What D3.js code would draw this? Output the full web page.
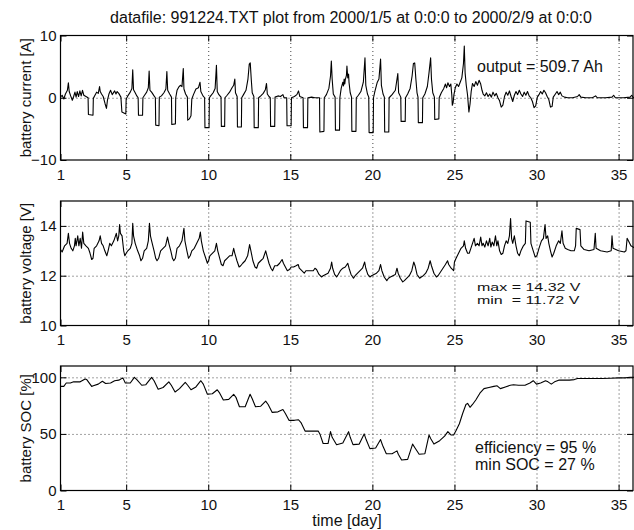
<!DOCTYPE html>
<meta charset="utf-8">
<style>
body { margin: 0; background: #fff; }
svg { font-family: "Liberation Sans", Arial, Helvetica, sans-serif; }
.grid line { stroke: #444; stroke-dasharray: 1,3; }
.grid .domain { display: none; }
.ax .domain { display: none; }
.ax line { stroke: #000; }
.ax text { font-size: 15px; fill: #111; }
.note { font-size: 16px; fill: #111; white-space: pre; }
</style>
<svg width="634" height="530"></svg>
<script src="https://cdn.jsdelivr.net/npm/d3@7"></script>
<script>
// ---- data: [day, value] ----
var dayTicks = [1, 5, 10, 15, 20, 25, 30, 35];

var currentPts = [
  [1.00,0.1],[1.10,0.4],[1.20,-0.2],[1.30,0.6],[1.42,1.2],[1.48,2.4],[1.53,1.0],[1.62,0.3],[1.72,-0.4],[1.80,0.2],[1.88,0.9],[1.95,0.1],[2.02,1.0],[2.10,0.2],[2.18,1.1],[2.26,0.3],[2.34,1.2],[2.42,0.4],[2.55,0.2],[2.68,0.0],
  [2.70,-2.7],[2.98,-2.8],[3.00,-0.1],[3.10,0.4],[3.20,0.9],[3.30,0.7],[3.38,1.8],[3.42,1.0],[3.50,0.6],[3.60,0.2],[3.72,-1.0],[3.80,-1.7],[3.86,-0.4],[3.95,0.6],[4.05,1.2],[4.15,0.5],[4.30,1.1],[4.38,0.6],[4.45,1.0],[4.55,0.7],[4.68,0.1],
  [4.74,-2.3],[4.98,-2.6],[5.00,-0.2],[5.10,0.3],[5.25,0.9],[5.35,1.5],[5.40,4.5],[5.45,1.3],[5.55,0.8],[5.65,0.3],[5.73,0.0],
  [5.75,-2.8],[6.00,-2.8],[6.02,0.0],[6.12,0.4],[6.25,0.9],[6.35,1.6],[6.40,4.3],[6.45,1.2],[6.55,0.9],[6.70,0.3],[6.78,0.0],
  [6.80,-4.4],[7.00,-4.5],[7.02,0.1],[7.15,0.3],[7.30,0.8],[7.42,1.4],[7.48,4.2],[7.53,1.2],[7.65,0.6],[7.76,0.1],
  [7.78,-4.3],[8.00,-4.2],[8.02,0.0],[8.10,1.2],[8.20,1.7],[8.30,2.0],[8.40,1.8],[8.48,4.7],[8.52,1.4],[8.62,0.6],[8.73,0.1],
  [8.75,-3.6],[8.85,-3.4],[8.95,-2.9],[9.00,-0.2],[9.10,0.5],[9.25,1.4],[9.40,1.6],[9.50,2.5],[9.55,1.0],[9.68,0.3],[9.78,0.0],
  [9.80,-4.8],[10.05,-4.8],[10.07,0.0],[10.15,0.3],[10.30,0.8],[10.42,1.5],[10.50,5.2],[10.55,1.0],[10.65,0.5],[10.78,0.1],
  [10.80,-4.6],[11.00,-4.6],[11.02,0.0],[11.15,0.4],[11.30,0.9],[11.45,1.6],[11.55,2.0],[11.62,3.0],[11.66,0.8],[11.76,0.2],
  [11.78,-4.7],[12.02,-4.7],[12.04,0.0],[12.15,0.5],[12.30,1.2],[12.42,3.0],[12.50,5.4],[12.56,5.6],[12.62,3.0],[12.68,0.8],[12.78,0.2],
  [12.80,-4.8],[13.05,-4.8],[13.07,0.0],[13.20,0.3],[13.35,0.7],[13.48,1.3],[13.55,2.3],[13.60,0.6],[13.70,0.2],[13.78,0.0],
  [13.80,-4.6],[14.05,-4.6],[14.07,0.1],[14.25,0.3],[14.40,0.2],[14.55,0.5],[14.62,0.0],[14.78,0.0],
  [14.80,-4.5],[15.05,-4.5],[15.07,0.0],[15.25,0.2],[15.40,0.5],[15.50,1.1],[15.58,0.2],[15.78,0.0],
  [15.80,-4.8],[16.05,-4.8],[16.07,0.0],[16.30,0.1],[16.50,0.0],[16.78,0.0],
  [16.80,-5.5],[17.05,-5.4],[17.07,0.0],[17.20,0.5],[17.35,1.5],[17.45,3.5],[17.50,5.9],[17.55,3.0],[17.62,0.6],[17.73,0.1],
  [17.75,-5.2],[18.00,-5.2],[18.02,0.0],[18.10,1.5],[18.20,2.5],[18.24,1.9],[18.28,3.0],[18.32,2.2],[18.35,2.9],[18.42,3.6],[18.45,5.1],[18.50,3.2],[18.55,3.8],[18.58,2.4],[18.65,0.8],[18.73,0.1],
  [18.75,-5.4],[19.00,-5.4],[19.02,0.0],[19.15,0.4],[19.30,1.0],[19.45,2.5],[19.55,6.4],[19.60,2.0],[19.70,0.6],[19.78,0.1],
  [19.80,-5.6],[20.05,-5.6],[20.07,0.0],[20.15,1.0],[20.30,2.5],[20.40,3.0],[20.50,6.2],[20.55,2.0],[20.65,0.6],[20.73,0.1],
  [20.75,-5.5],[21.00,-5.5],[21.02,0.0],[21.20,0.5],[21.40,1.2],[21.55,3.9],[21.60,0.8],[21.73,0.1],
  [21.75,-3.8],[22.00,-3.8],[22.02,0.0],[22.15,0.6],[22.30,1.5],[22.42,3.5],[22.50,5.5],[22.58,5.6],[22.65,3.0],[22.72,0.8],[22.78,0.1],
  [22.80,-4.0],[23.05,-4.0],[23.07,0.0],[23.20,0.6],[23.35,1.8],[23.45,4.0],[23.55,6.4],[23.60,3.0],[23.68,0.8],[23.78,0.1],
  [23.80,-3.5],[24.05,-3.4],[24.07,0.0],[24.20,0.8],[24.35,1.5],[24.45,2.2],[24.52,1.6],[24.60,2.4],[24.70,1.8],[24.78,2.2],[24.84,0.4],[24.87,-1.2],[24.92,-0.8],[24.97,0.5],
  [25.05,1.6],[25.15,2.2],[25.25,1.8],[25.35,2.5],[25.45,3.2],[25.55,5.5],[25.60,8.3],[25.65,4.0],[25.72,2.0],[25.80,0.4],[25.88,-2.3],[25.95,-1.0],[26.02,1.0],
  [26.10,2.3],[26.20,1.8],[26.30,2.6],[26.40,2.0],[26.50,2.8],[26.60,2.2],[26.68,1.2],[26.75,0.6],[26.85,0.3],[26.95,0.8],[27.05,0.2],[27.15,0.6],[27.25,0.1],[27.35,0.9],[27.45,0.3],[27.55,0.7],[27.65,0.0],
  [27.75,-0.5],[27.85,-1.5],[27.95,-1.2],[28.05,0.2],[28.15,0.9],[28.25,0.4],[28.35,1.1],[28.45,0.2],[28.55,-0.6],[28.65,0.4],[28.75,1.0],[28.85,0.5],[28.95,1.2],[29.05,0.6],[29.15,0.2],[29.25,0.9],[29.35,0.4],[29.45,1.0],[29.55,0.3],[29.65,0.0],[29.75,-0.6],[29.85,-1.6],[29.95,-1.3],[30.05,0.1],
  [30.15,0.5],[30.25,1.0],[30.35,0.6],[30.45,1.2],[30.55,0.8],[30.65,0.2],[30.75,-0.3],[30.85,-1.5],[30.95,-1.4],[31.02,0.1],[31.15,0.6],[31.25,1.0],[31.35,0.5],[31.45,0.9],[31.55,0.3],[31.70,0.1],
  [31.90,0.0],[32.20,0.0],[32.50,0.2],[32.60,0.5],[32.70,0.1],[33.00,0.0],[33.40,0.0],[33.60,0.3],[33.70,0.0],[34.20,0.0],[34.60,0.1],[34.70,0.4],[34.80,0.0],[35.30,0.0],[35.70,0.1],[35.80,0.4],[35.90,0.0],[36.00,0.0]
];

var voltagePts = [
  [1.00,13.05],[1.10,12.95],[1.25,13.2],[1.40,13.3],[1.48,13.7],[1.55,13.3],[1.65,13.1],[1.75,13.0],[1.85,13.2],[1.90,13.5],[1.95,13.2],[2.05,13.6],[2.12,13.2],[2.20,13.5],[2.28,13.1],[2.35,13.75],[2.42,13.3],[2.55,13.2],[2.70,13.1],[2.80,12.9],[2.90,12.65],[2.98,12.7],
  [3.05,13.1],[3.20,13.2],[3.35,13.4],[3.42,13.6],[3.50,13.3],[3.60,13.2],[3.70,13.0],[3.82,12.8],[3.90,13.0],[4.00,13.3],[4.10,13.2],[4.25,13.4],[4.40,13.7],[4.48,13.4],[4.55,13.6],[4.60,14.05],[4.65,13.7],[4.75,13.6],[4.85,13.0],[4.92,12.8],
  [5.00,12.9],[5.10,13.0],[5.25,13.1],[5.35,13.3],[5.40,14.1],[5.45,13.6],[5.55,13.3],[5.70,13.0],[5.82,12.8],[5.90,12.6],[6.00,12.7],[6.10,13.0],[6.25,13.1],[6.35,13.4],[6.42,14.1],[6.48,13.6],[6.55,13.4],[6.70,13.0],[6.80,12.7],[6.88,12.6],[6.98,12.7],
  [7.10,13.0],[7.25,13.1],[7.40,13.2],[7.52,13.55],[7.60,13.3],[7.72,13.0],[7.82,12.7],[7.90,12.6],[8.00,12.7],[8.10,13.1],[8.25,13.2],[8.40,13.4],[8.52,13.9],[8.58,13.4],[8.70,13.0],[8.80,12.7],[8.90,12.8],
  [9.00,13.0],[9.15,13.1],[9.30,13.3],[9.45,13.5],[9.52,13.75],[9.58,13.4],[9.70,13.0],[9.85,12.7],[9.95,12.5],[10.02,12.6],[10.10,12.8],[10.25,12.9],[10.40,13.0],[10.50,13.3],[10.58,13.0],[10.70,12.7],[10.80,12.45],[10.90,12.4],
  [11.00,12.6],[11.15,12.7],[11.30,12.8],[11.45,12.8],[11.55,13.1],[11.62,12.9],[11.75,12.6],[11.88,12.35],[11.98,12.4],[12.10,12.5],[12.25,12.6],[12.40,12.8],[12.52,13.25],[12.60,13.0],[12.72,12.6],[12.85,12.35],[12.95,12.3],
  [13.05,12.5],[13.20,12.6],[13.35,12.7],[13.50,13.0],[13.58,12.8],[13.70,12.5],[13.82,12.3],[13.92,12.2],[14.05,12.4],[14.20,12.4],[14.35,12.5],[14.50,12.65],[14.58,12.5],[14.70,12.35],[14.82,12.2],[14.95,12.25],
  [15.05,12.35],[15.20,12.35],[15.35,12.4],[15.48,12.45],[15.55,12.3],[15.70,12.2],[15.85,12.1],[15.95,12.2],[16.10,12.2],[16.25,12.2],[16.40,12.2],[16.50,12.3],[16.60,12.25],[16.75,12.05],[16.90,11.95],
  [17.00,12.0],[17.15,12.05],[17.30,12.1],[17.45,12.3],[17.52,12.55],[17.58,12.3],[17.70,12.05],[17.82,11.95],[17.92,12.05],[18.05,12.2],[18.20,12.3],[18.35,12.35],[18.50,12.5],[18.58,12.3],[18.70,12.05],[18.85,11.9],[18.95,12.0],
  [19.10,12.1],[19.25,12.2],[19.40,12.3],[19.53,12.55],[19.60,12.3],[19.72,12.05],[19.85,11.95],[19.95,12.0],[20.10,12.05],[20.25,12.1],[20.40,12.2],[20.50,12.45],[20.58,12.2],[20.72,11.95],[20.88,11.8],[20.98,11.9],
  [21.10,11.95],[21.25,12.0],[21.40,12.05],[21.50,12.3],[21.57,12.1],[21.70,11.9],[21.85,11.75],[21.95,11.8],[22.10,11.9],[22.25,12.0],[22.40,12.2],[22.52,12.55],[22.60,12.4],[22.72,12.05],[22.88,11.9],[22.98,11.95],
  [23.10,12.0],[23.25,12.1],[23.40,12.3],[23.52,12.6],[23.60,12.4],[23.75,12.1],[23.90,11.95],[24.00,12.0],[24.15,12.15],[24.30,12.3],[24.45,12.45],[24.58,12.6],[24.65,12.45],[24.80,12.3],[24.95,12.2],
  [25.00,12.55],[25.10,12.7],[25.25,12.9],[25.40,13.1],[25.55,13.2],[25.60,13.4],[25.68,13.1],[25.80,12.9],[25.90,12.9],[26.00,13.1],[26.10,13.3],[26.20,13.5],[26.28,13.2],[26.40,13.3],[26.50,13.2],[26.60,13.55],[26.68,13.2],[26.75,13.3],[26.85,13.15],[26.95,13.4],
  [27.05,13.2],[27.15,13.5],[27.22,13.15],[27.30,13.35],[27.40,13.2],[27.50,13.6],[27.58,13.2],[27.65,13.4],[27.75,13.0],[27.85,12.85],[27.95,12.9],[28.05,13.2],[28.15,13.4],[28.25,13.3],[28.35,13.6],[28.42,14.3],[28.48,13.5],[28.55,13.3],[28.65,13.6],[28.75,13.2],[28.85,12.9],[28.95,12.8],
  [29.05,13.0],[29.20,13.2],[29.32,13.3],[29.36,14.2],[29.62,14.15],[29.66,13.3],[29.80,13.0],[29.92,12.75],[30.02,12.8],[30.15,13.1],[30.30,13.4],[30.42,13.5],[30.52,14.05],[30.58,13.5],[30.68,13.6],[30.75,13.3],[30.85,13.0],[30.95,12.75],
  [31.05,12.9],[31.20,13.2],[31.35,13.4],[31.45,13.3],[31.55,13.8],[31.62,13.3],[31.75,13.1],[31.90,13.05],[32.10,13.0],[32.30,13.0],[32.38,13.2],[32.42,13.9],[32.65,13.85],[32.70,13.2],[32.90,13.05],
  [33.20,13.0],[33.50,13.05],[33.58,13.7],[33.63,13.1],[33.90,13.0],[34.30,12.95],[34.55,13.0],[34.60,13.6],[34.66,13.1],[35.00,13.0],[35.35,12.95],[35.45,13.0],[35.52,13.5],[35.60,13.4],[35.75,13.2],[36.00,13.1]
];

var socPts = [
  [1.00,92],[1.20,92],[1.35,95],[1.60,95],[1.80,96],[2.20,96],[2.50,98.5],[2.60,98],[2.90,92],[3.00,92.5],[3.30,94],[3.55,96.5],[3.75,94.5],[4.05,95],[4.30,97],[4.55,97.5],[4.80,99.5],[4.95,95],
  [5.25,95],[5.50,100],[5.65,98],[5.95,93],[6.20,93.5],[6.55,100],[6.70,97],[6.95,89.5],[7.25,91],[7.60,96],[7.75,93],[7.98,87],[8.25,90],[8.60,95.5],[8.75,93],[8.95,89],[9.25,91.5],[9.55,97],[9.70,94],[9.95,85],
  [10.25,85.5],[10.55,89],[10.70,86],[10.92,80],[11.25,80.5],[11.55,85],[11.70,82],[11.90,74],[12.25,74],[12.55,85],[12.68,81],[12.88,74],[13.20,74.5],[13.50,79],[13.65,76],[13.90,69],[14.25,69.5],[14.55,71.5],[14.70,68],[14.92,62],
  [15.25,62],[15.50,62.5],[15.65,60],[15.90,52.5],[16.30,52.5],[16.70,52.5],[16.80,50],[17.00,41.5],[17.30,41.5],[17.45,52],[17.55,47],[17.82,40.5],[18.20,42],[18.55,52],[18.65,47],[18.82,40.5],[19.20,41],[19.50,50],[19.62,45],[19.85,37],
  [20.20,37.5],[20.50,45],[20.62,40],[20.85,32.5],[21.20,32.5],[21.50,35],[21.58,32],[21.78,27],[22.15,27.5],[22.45,41],[22.58,38],[22.85,32],[23.20,32.5],[23.45,49],[23.55,46],[23.75,41],[24.10,44],[24.40,48],[24.60,52],[24.80,49],[24.95,49],
  [25.10,53],[25.30,59],[25.50,68],[25.70,76],[25.80,77],[25.95,73.5],[26.10,76],[26.30,80],[26.55,86],[26.80,90],[27.10,91],[27.40,92],[27.60,92.5],[27.80,90],[28.10,91.5],[28.40,93],[28.60,93.5],[28.90,93],[29.30,93],[29.60,95],[29.80,97],
  [30.00,94],[30.25,95],[30.55,97],[30.70,96],[30.90,94],[31.10,96],[31.35,97.5],[31.60,97.5],[32.00,97.5],[32.30,98],[32.50,99],[33.00,99],[33.50,99],[34.00,99],[34.50,99.2],[35.00,99.5],[35.40,99.5],[35.70,100],[36.00,100]
];

var titleText = "datafile: 991224.TXT plot from 2000/1/5 at 0:0:0 to 2000/2/9 at 0:0:0";

var svg = d3.select("svg");
svg.append("rect").attr("width", 634).attr("height", 530).attr("fill", "#fff");

var left = 60.5, right = 635, plotH = 124.5, tickLen = 6;
var x = d3.scaleLinear().domain([1, 36]).range([left, right]);

svg.append("text")
    .attr("x", 351).attr("y", 23)
    .attr("text-anchor", "middle")
    .attr("font-size", 16).attr("fill", "#111")
    .text(titleText);

// the two stat lines in the voltage panel are squeezed vertically, as in the scan
var panels = [
  {top: 35.5, domain: [-10, 10], ticks: [-10, 0, 10], grid: [0], pts: currentPts,
   label: "battery current [A]", notes: [{x: 477, y: 72, t: "output = 509.7 Ah", sy: 1}]},
  {top: 201, domain: [10, 15], ticks: [10, 12, 14], grid: [12, 14], pts: voltagePts,
   label: "battery voltage [V]", notes: [{x: 477, y: 291, t: "max = 14.32 V", sy: 0.7}, {x: 477, y: 304, t: "min  = 11.72 V", sy: 0.7}]},
  {top: 366, domain: [0, 110], ticks: [0, 50, 100], grid: [50, 100], pts: socPts,
   label: "battery SOC [%]", notes: [{x: 475, y: 453, t: "efficiency = 95 %", sy: 1}, {x: 475, y: 470, t: "min SOC = 27 %", sy: 1}]}
];

panels.forEach(function(p, i) {
  var y = d3.scaleLinear().domain(p.domain).range([p.top + plotH, p.top]);
  var g = svg.append("g");

  // dotted grid
  g.append("g").attr("class", "grid")
      .attr("transform", "translate(0," + (p.top + plotH) + ")")
      .call(d3.axisBottom(x).tickValues(dayTicks.slice(1)).tickSize(-plotH).tickFormat(""));
  g.append("g").attr("class", "grid")
      .attr("transform", "translate(" + left + ",0)")
      .call(d3.axisLeft(y).tickValues(p.grid).tickSize(-(right - left)).tickFormat(""));

  // data
  var clipId = "clip" + i;
  svg.append("clipPath").attr("id", clipId).append("rect")
      .attr("x", left).attr("y", p.top).attr("width", right - left).attr("height", plotH);
  g.append("path")
      .datum(p.pts)
      .attr("clip-path", "url(#" + clipId + ")")
      .attr("fill", "none")
      .attr("stroke", "#000")
      .attr("stroke-width", 1.1)
      .attr("stroke-linejoin", "round")
      .attr("d", d3.line().x(function(d) { return x(d[0]); }).y(function(d) { return y(d[1]); }));

  // axes with inward ticks (matlab style)
  g.append("g").attr("class", "ax")
      .attr("transform", "translate(0," + (p.top + plotH) + ")")
      .call(d3.axisBottom(x).tickValues(dayTicks).tickSize(-tickLen).tickPadding(9));
  g.append("g").attr("class", "ax")
      .attr("transform", "translate(0," + p.top + ")")
      .call(d3.axisTop(x).tickValues(dayTicks).tickSize(-tickLen).tickFormat(""));
  g.append("g").attr("class", "ax")
      .attr("transform", "translate(" + left + ",0)")
      .call(d3.axisLeft(y).tickValues(p.ticks).tickSize(-tickLen).tickPadding(4)
        .tickFormat(function(d) { return d < 0 ? "\u2212" + (-d) : d; }));
  g.append("g").attr("class", "ax")
      .attr("transform", "translate(633,0)")
      .call(d3.axisRight(y).tickValues(p.ticks).tickSize(-tickLen).tickFormat(""));

  g.append("rect")
      .attr("x", left).attr("y", p.top)
      .attr("width", 633 - left).attr("height", plotH)
      .attr("fill", "none").attr("stroke", "#000").attr("stroke-width", 1.2);

  g.append("text")
      .attr("transform", "translate(31," + (p.top + plotH / 2) + ") rotate(-90)")
      .attr("text-anchor", "middle")
      .attr("font-size", 15).attr("fill", "#111")
      .text(p.label);

  p.notes.forEach(function(n) {
    g.append("text").attr("class", "note")
        .attr("transform", "translate(" + n.x + "," + n.y + ") scale(1," + n.sy + ")")
        .text(n.t);
  });
});

svg.append("text")
    .attr("x", 347).attr("y", 526)
    .attr("text-anchor", "middle")
    .attr("font-size", 16).attr("fill", "#111")
    .text("time [day]");
</script>
